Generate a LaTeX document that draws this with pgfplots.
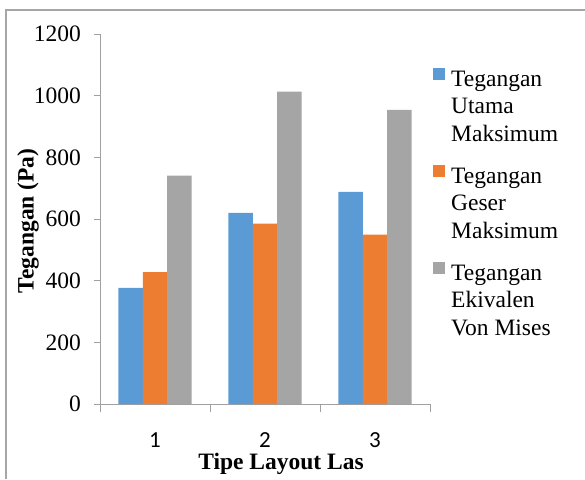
\documentclass[border=0pt]{standalone}
\usepackage{fontspec}
\setmainfont{Liberation Serif}
\newfontfamily\carlito{Carlito}
\usepackage{pgfplots}
\pgfplotsset{compat=1.18}

\definecolor{cblue}{HTML}{5B9BD5}
\definecolor{corange}{HTML}{ED7D31}
\definecolor{cgray}{HTML}{A5A5A5}
\definecolor{frame}{HTML}{A6A6A6}
\definecolor{axgray}{HTML}{A0A0A0}

\begin{document}
\begin{tikzpicture}[x=1pt,y=1pt]
\useasboundingbox (0,0) rectangle (585,479);
% outer chart frame
\draw[frame, line width=1.5pt] (6,0) -- (6,469) -- (586,469);
\begin{axis}[
  at={(100pt,75pt)}, anchor=south west,
  scale only axis, width=330pt, height=370pt,
  ybar=0pt, bar width=24.4pt,
  xmin=0.5, xmax=3.5, ymin=0, ymax=1200,
  axis lines*=left,
  axis line style={-, draw=axgray, line width=0.8pt},
  xtick={1,2,3},
  major x tick style={draw=none},
  extra x ticks={0.5,1.5,2.5,3.5},
  extra x tick labels={},
  extra x tick style={major tick length=8pt, tick align=outside,
    major x tick style={draw=axgray, line width=0.8pt}},
  ytick={0,200,...,1200},
  tick align=outside,
  major tick length=6pt,
  y tick style={draw=axgray, line width=0.8pt},
  /pgf/number format/assume math mode=true,
  /pgf/number format/1000 sep={},
  yticklabel style={font=\fontsize{23.5}{27}\selectfont, anchor=east, inner sep=0pt, xshift=-13pt},
  xticklabel style={font=\carlito\fontsize{23}{27}\selectfont, anchor=north, inner sep=0pt, text depth=0pt, yshift=-22.5pt},
  xlabel={\textbf{Tipe Layout Las}},
  ylabel={\textbf{Tegangan (Pa)}},
  xlabel style={font=\fontsize{23.5}{27}\selectfont, at={(axis description cs:0.5485,0)}, anchor=base, yshift=-65pt, inner sep=0pt, text height=15pt},
  ylabel style={font=\fontsize{23.5}{27}\selectfont, at={(axis description cs:-0.218,0.495)}, anchor=center, inner sep=0pt},
  legend image code/.code={\fill[#1] (0pt,26.5pt) rectangle (12pt,38.5pt);},
  legend cell align=left,
  legend style={at={(axis description cs:1.0,0.913)}, anchor=north west,
    draw=none, fill=none, font=\fontsize{23.5}{27.5}\selectfont,
    nodes={align=left, inner sep=0pt}, column sep=6pt, row sep=22.5pt},
]
\addplot[fill=cblue, draw=none] coordinates {(1,377) (2,620) (3,688)};
\addplot[fill=corange, draw=none] coordinates {(1,428) (2,585) (3,549)};
\addplot[fill=cgray, draw=none] coordinates {(1,741) (2,1013) (3,954)};
\legend{{Tegangan\\Utama\\Maksimum},{Tegangan\\Geser\\Maksimum},{Tegangan\\Ekivalen\\Von Mises}}
\end{axis}
\end{tikzpicture}
\end{document}
